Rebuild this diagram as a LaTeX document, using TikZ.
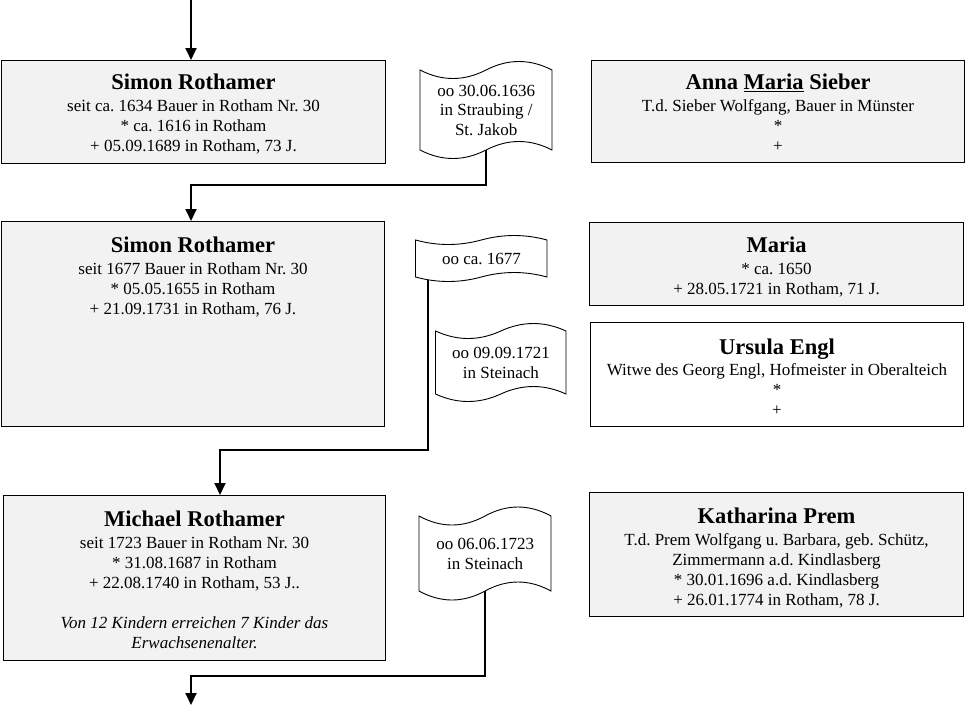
\documentclass[tikz,border=0pt]{standalone}
\usepackage{fontspec}
\setmainfont{Liberation Serif}
\usetikzlibrary{arrows.meta,backgrounds}
\definecolor{boxgray}{HTML}{F2F2F2}
\frenchspacing
\tikzset{
  person/.style={draw=black, line width=1pt, fill=boxgray, inner sep=0pt, anchor=north west},
  whiteperson/.style={person, fill=white},
  tapeshape/.style={draw=black, line width=0.9pt, fill=white},
  tapenode/.style={inner sep=0pt, anchor=north west, align=center, font=\fontsize{17}{19.5}\selectfont},
  conn/.style={line width=1.8pt, -{Triangle[width=11pt,length=12pt]}},
}
\newcommand\hd[1]{{\fontsize{22.5}{24}\selectfont\bfseries #1}}
\newcommand\pbody[4]{\parbox[c][#2pt][t]{#1pt}{\frenchspacing\fontsize{17}{20}\selectfont\centering\vspace*{#3pt}#4\par}}
\newcommand\tape[7]{%
 \draw[tapeshape] (#2,#3) .. controls ({#2+#4/6},{#3+4*#6/3}) and ({#2+#4/3},{#3+4*#6/3}) .. ({#2+#4/2},#3)
   .. controls ({#2+2*#4/3},{#3-4*#6/3}) and ({#2+5*#4/6},{#3-4*#6/3}) .. ({#2+#4},#3)
   -- ({#2+#4},{#3+#5})
   .. controls ({#2+5*#4/6},{#3+#5-4*#6/3}) and ({#2+2*#4/3},{#3+#5-4*#6/3}) .. ({#2+#4/2},{#3+#5})
   .. controls ({#2+#4/3},{#3+#5+4*#6/3}) and ({#2+#4/6},{#3+#5+4*#6/3}) .. (#2,{#3+#5}) -- cycle;
 \node[tapenode, minimum width=#4pt, minimum height=#5pt] (#1) at (#2,#3) {\frenchspacing #7};}
\begin{document}
\begin{tikzpicture}[x=1pt,y=-1pt]
\useasboundingbox (0,0) rectangle (965,718);

% persons
\node[person] (s1) at (1,60) {\pbody{384}{103}{13}{\hd{Simon Rothamer}\\[2pt]seit ca. 1634 Bauer in Rotham Nr. 30\\{*} ca. 1616 in Rotham\\+ 05.09.1689 in Rotham, 73 J.}};
\node[person] (a1) at (591,60) {\pbody{373}{102}{13}{\hd{Anna \underline{Maria} Sieber}\\[2pt]T.d. Sieber Wolfgang, Bauer in Münster\\{*}\\+}};
\node[person] (s2) at (1,221) {\pbody{383}{205}{15}{\hd{Simon Rothamer}\\[2pt]seit 1677 Bauer in Rotham Nr. 30\\{*} 05.05.1655 in Rotham\\+ 21.09.1731 in Rotham, 76 J.}};
\node[person] (m1) at (589,222) {\pbody{374}{83}{14}{\hd{Maria}\\[2pt]{*} ca. 1650\\+ 28.05.1721 in Rotham, 71 J.}};
\node[whiteperson] (u1) at (590,322) {\pbody{373}{104}{16}{\hd{Ursula Engl}\\[1pt]Witwe des Georg Engl, Hofmeister in Oberalteich\\{*}\\+}};
\node[person] (mi) at (3,495) {\pbody{382}{165}{15}{\hd{Michael Rothamer}\\[2pt]seit 1723 Bauer in Rotham Nr. 30\\{*} 31.08.1687 in Rotham\\+ 22.08.1740 in Rotham, 53 J..\\[20pt]\itshape Von 12 Kindern erreichen 7 Kinder das\\Erwachsenenalter.}};
\node[person] (k1) at (589,492) {\pbody{374}{124}{15}{\hd{Katharina Prem}\\[2pt]T.d. Prem Wolfgang u. Barbara, geb. Schütz,\\Zimmermann a.d. Kindlasberg\\{*} 30.01.1696 a.d. Kindlasberg\\+ 26.01.1774 in Rotham, 78 J.}};

% marriages
\tape{t1}{420}{70}{132}{80}{8.5}{oo 30.06.1636\\in Straubing /\\St. Jakob}
\tape{t2}{415.5}{240}{131.5}{37}{4.5}{oo ca. 1677}
\tape{t3}{435.5}{331}{130.5}{63}{7.5}{oo 09.09.1721\\in Steinach}
\tape{t4}{419}{516}{132}{75}{9}{oo 06.06.1723\\in Steinach}

% connectors
\coordinate (in0) at (191,0);
\coordinate (j1) at (191,185);
\coordinate (j2) at (220,450);
\coordinate (t2b) at ([xshift=12.5pt]t2.south west);
\coordinate (j3) at (191,676);
\coordinate (out) at (191,705);
\begin{scope}[on background layer]
\draw[conn] (in0) -- (in0 |- s1.north);
\draw[conn] (t1.south) |- (j1) -- (j1 |- s2.north);
\draw[conn] (t2b) |- (j2) -- (j2 |- mi.north);
\draw[conn] (t4.south) |- (j3) -- (out);
\end{scope}
\end{tikzpicture}
\end{document}
